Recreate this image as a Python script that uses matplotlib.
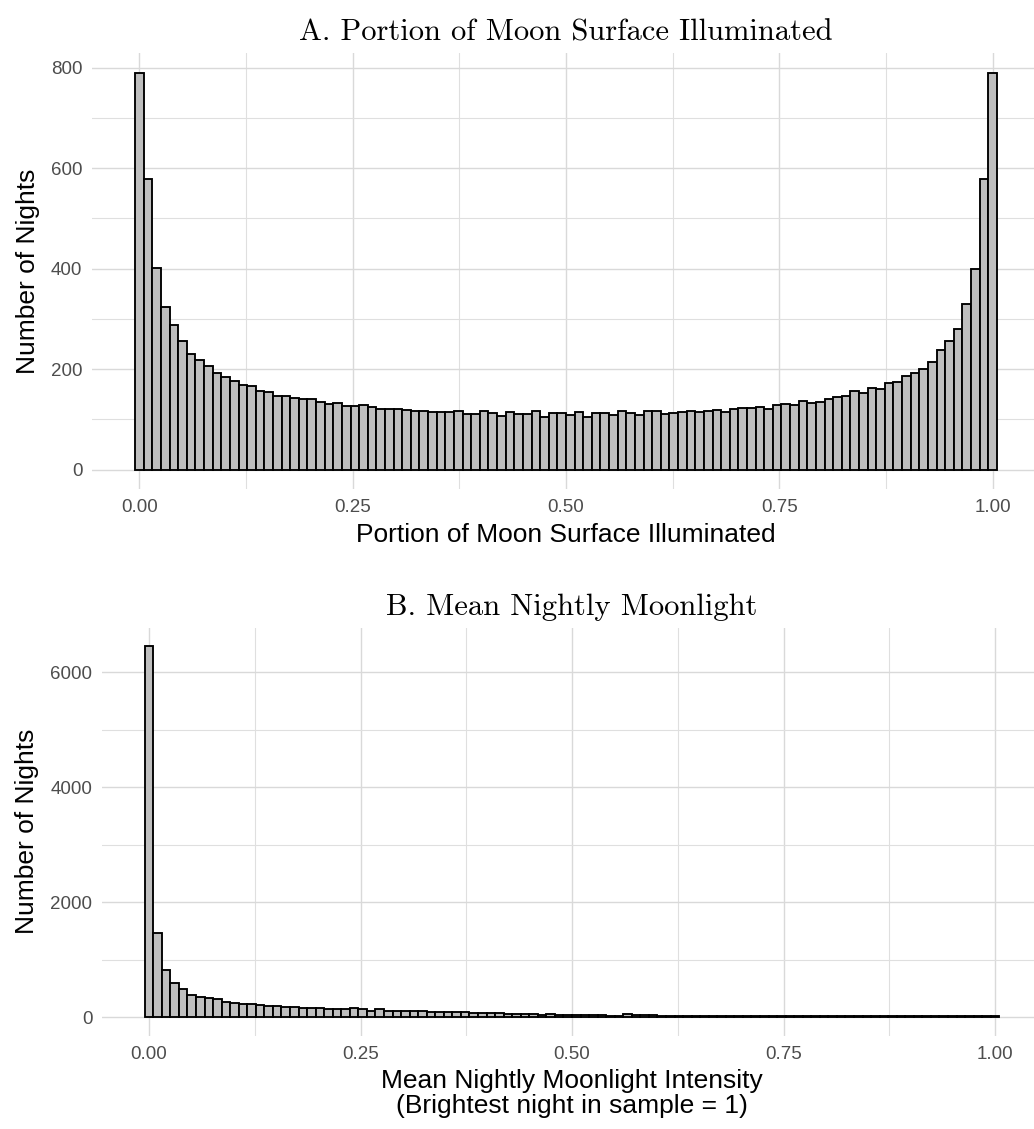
import numpy as np
import matplotlib
matplotlib.use("Agg")
import matplotlib.pyplot as plt
from matplotlib.ticker import MultipleLocator

# ---------------------------------------------------------
# Histogram counts (100 bins over [0, 1], bins centred on k/99)
# ---------------------------------------------------------
illum_counts = [
    790, 579, 402, 323, 288, 255, 229, 218, 207, 192,
    184, 177, 169, 166, 157, 154, 147, 146, 142, 140,
    140, 135, 131, 132, 126, 126, 129, 124, 121, 120,
    120, 118, 117, 117, 114, 114, 115, 117, 110, 110,
    117, 112, 107, 114, 110, 110, 116, 104, 113, 112,
    108, 115, 104, 112, 112, 108, 117, 112, 108, 117,
    117, 111, 113, 115, 117, 114, 117, 119, 115, 121,
    123, 123, 125, 120, 129, 131, 128, 137, 133, 135,
    141, 144, 146, 156, 153, 163, 161, 172, 174, 186,
    192, 200, 215, 237, 255, 280, 330, 399, 579, 789,
]

moonlight_counts = [
    6450, 1460, 825, 600, 485, 395, 360, 335, 310, 265,
    248, 235, 225, 218, 200, 190, 182, 178, 166, 160,
    155, 150, 143, 150, 160, 152, 100, 135, 112, 108,
    105, 100, 104, 96, 95, 92, 98, 85, 80, 72,
    68, 74, 55, 52, 58, 50, 45, 50, 44, 42,
    40, 38, 36, 32, 30, 28, 48, 44, 42, 38,
    30, 28, 27, 29, 25, 26, 24, 26, 23, 22,
    21, 23, 20, 19, 19, 20, 18, 17, 18, 16,
    16, 17, 15, 15, 14, 15, 15, 14, 14, 14,
    14, 14, 14, 14, 13, 14, 13, 13, 13, 13,
]

x_ticks = [0.0, 0.25, 0.5, 0.75, 1.0]
x_tick_labels = ["0.00", "0.25", "0.50", "0.75", "1.00"]

W, H = 1034, 1129
SANS = "Liberation Sans"
SERIF = "cmr10"

fig = plt.figure(figsize=(W / 100, H / 100), dpi=100)
fig.patch.set_facecolor("white")


def px_axes(left, right, top, bottom):
    return fig.add_axes([left / W, 1 - bottom / H, (right - left) / W, (bottom - top) / H])


def draw_hist(ax, counts, ymajor, yminor, ylim, xlim):
    n = len(counts)
    width = 1.0 / (n - 1)
    centres = np.arange(n) * width
    ax.bar(centres, counts, width=width, color="#BEBEBE", edgecolor="black",
           linewidth=1.35, zorder=3)
    ax.set_xlim(*xlim)
    ax.set_ylim(*ylim)
    ax.set_xticks(x_ticks)
    ax.set_xticklabels(x_tick_labels)
    ax.xaxis.set_minor_locator(MultipleLocator(0.125))
    ax.yaxis.set_major_locator(MultipleLocator(ymajor))
    ax.yaxis.set_minor_locator(MultipleLocator(yminor))
    ax.grid(which="major", color="#D9D9D9", linewidth=1.0, zorder=0)
    ax.grid(which="minor", color="#DFDFDF", linewidth=0.8, zorder=0)
    ax.set_axisbelow(True)
    for s in ax.spines.values():
        s.set_visible(False)
    ax.tick_params(which="both", length=0)
    ax.tick_params(axis="both", labelsize=13.5, labelcolor="#4D4D4D", pad=7)
    for lab in ax.get_xticklabels() + ax.get_yticklabels():
        lab.set_family(SANS)


def expanded(lo, hi, frac=0.05):
    span = hi - lo
    return lo - frac * span, hi + frac * span


half = 0.5 / 99

# Panel A
axA = px_axes(92, 1040, 52.7, 489.4)
draw_hist(axA, illum_counts, 200, 100, expanded(0, max(illum_counts)), expanded(-half, 1 + half))
axA.set_xlabel("Portion of Moon Surface Illuminated", family=SANS, fontsize=19, labelpad=5)
axA.set_ylabel("Number of Nights", family=SANS, fontsize=19, labelpad=8)
axA.set_title("A. Portion of Moon Surface Illuminated", family=SERIF, fontsize=22, pad=9)

# Panel B
axB = px_axes(102, 1042, 627.6, 1035.8)
draw_hist(axB, moonlight_counts, 2000, 1000, expanded(0, max(moonlight_counts)), expanded(-half, 1 + half))
axB.set_xlabel("Mean Nightly Moonlight Intensity\n(Brightest night in sample = 1)",
               family=SANS, fontsize=19, labelpad=5, linespacing=1.05)
axB.set_ylabel("Number of Nights", family=SANS, fontsize=19, labelpad=8)
axB.set_title("B. Mean Nightly Moonlight", family=SERIF, fontsize=22, pad=9)

fig.savefig("out.png", dpi=100, facecolor="white")
